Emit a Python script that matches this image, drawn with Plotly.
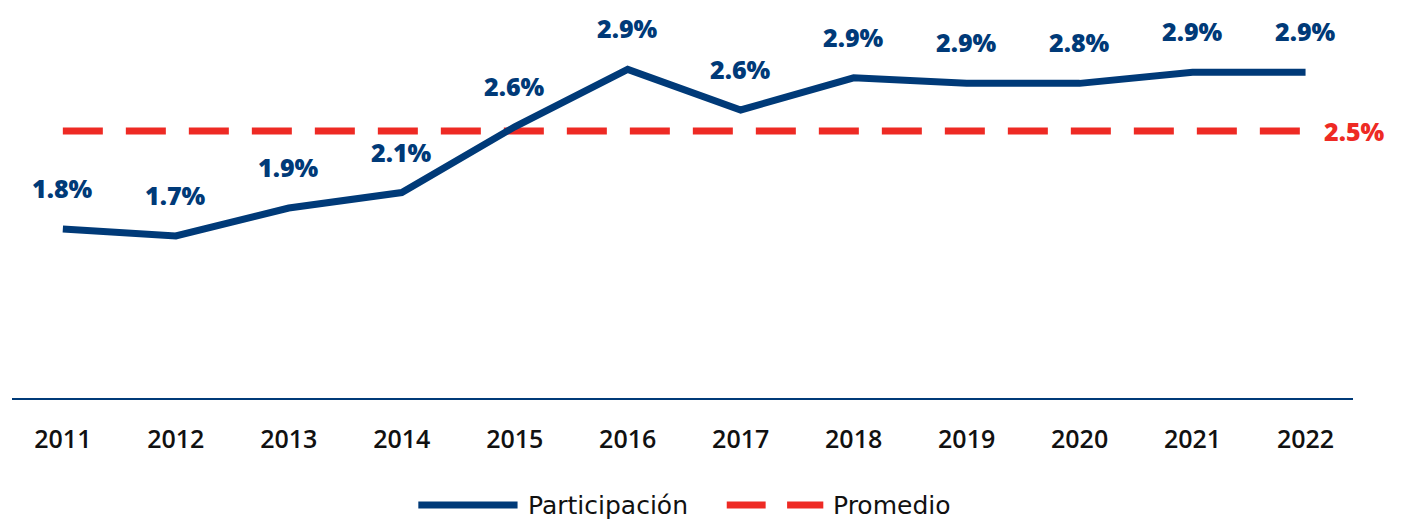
import plotly.graph_objects as go

years = [2011, 2012, 2013, 2014, 2015, 2016, 2017, 2018, 2019, 2020, 2021, 2022]
participacion = [1.80, 1.75, 1.95, 2.06, 2.53, 2.94, 2.65, 2.88, 2.84, 2.84, 2.92, 2.92]
labels = ["1.8%", "1.7%", "1.9%", "2.1%", "2.6%", "2.9%", "2.6%", "2.9%", "2.9%", "2.8%", "2.9%", "2.9%"]
promedio = 2.5
promedio_label = "2.5%"

NAVY = "#003a78"
RED = "#ee2a24"
FONT = "Open Sans"
LEG_FONT = "DejaVu Sans"

fig = go.Figure()

fig.add_trace(go.Scatter(
    x=years, y=[promedio] * len(years),
    mode="lines", name="Promedio",
    line=dict(color=RED, width=7, dash="40px,23px"),
    showlegend=False,
))
fig.add_trace(go.Scatter(
    x=years, y=participacion,
    mode="lines", name="Participación",
    line=dict(color=NAVY, width=7),
    showlegend=False,
))

# data labels above each point
for x, y, t in zip(years, participacion, labels):
    fig.add_annotation(x=x, y=y, text=t, showarrow=False, yshift=41,
                       font=dict(family=FONT, size=25, color=NAVY, weight=800))

fig.add_annotation(x=years[-1], y=promedio, text=promedio_label, showarrow=False,
                   xshift=49, font=dict(family=FONT, size=25, color=RED, weight=800))

# hand-drawn legend to get the long line samples
LEG_Y = -0.276
fig.add_shape(type="line", xref="paper", yref="paper", x0=0.303, x1=0.377,
              y0=LEG_Y, y1=LEG_Y, line=dict(color=NAVY, width=7))
fig.add_annotation(xref="paper", yref="paper", x=0.383, y=LEG_Y, text="Participación",
                   showarrow=False, xanchor="left", yanchor="middle",
                   font=dict(family=LEG_FONT, size=25, color="#111111"))
fig.add_shape(type="line", xref="paper", yref="paper", x0=0.533, x1=0.562,
              y0=LEG_Y, y1=LEG_Y, line=dict(color=RED, width=7))
fig.add_shape(type="line", xref="paper", yref="paper", x0=0.578, x1=0.605,
              y0=LEG_Y, y1=LEG_Y, line=dict(color=RED, width=7))
fig.add_annotation(xref="paper", yref="paper", x=0.611, y=LEG_Y, text="Promedio",
                   showarrow=False, xanchor="left", yanchor="middle",
                   font=dict(family=LEG_FONT, size=25, color="#111111"))

fig.update_xaxes(
    range=[2010.55, 2022.42], tickmode="array", tickvals=years,
    ticktext=[str(y) for y in years],
    showline=True, linecolor=NAVY, linewidth=2,
    showgrid=False, zeroline=False, ticks="",
    ticklabelstandoff=18,
    tickfont=dict(family=FONT, size=25, color="#111111", weight=600),
)
fig.update_yaxes(range=[0.593, 3.364], visible=False, showgrid=False)

# the page adds an 8px body margin, so margins are shifted to compensate
fig.update_layout(
    width=1401, height=521,
    margin=dict(l=4, r=56, t=2, b=131),
    plot_bgcolor="white", paper_bgcolor="white",
    showlegend=False,
)

fig.write_html("out.html")
